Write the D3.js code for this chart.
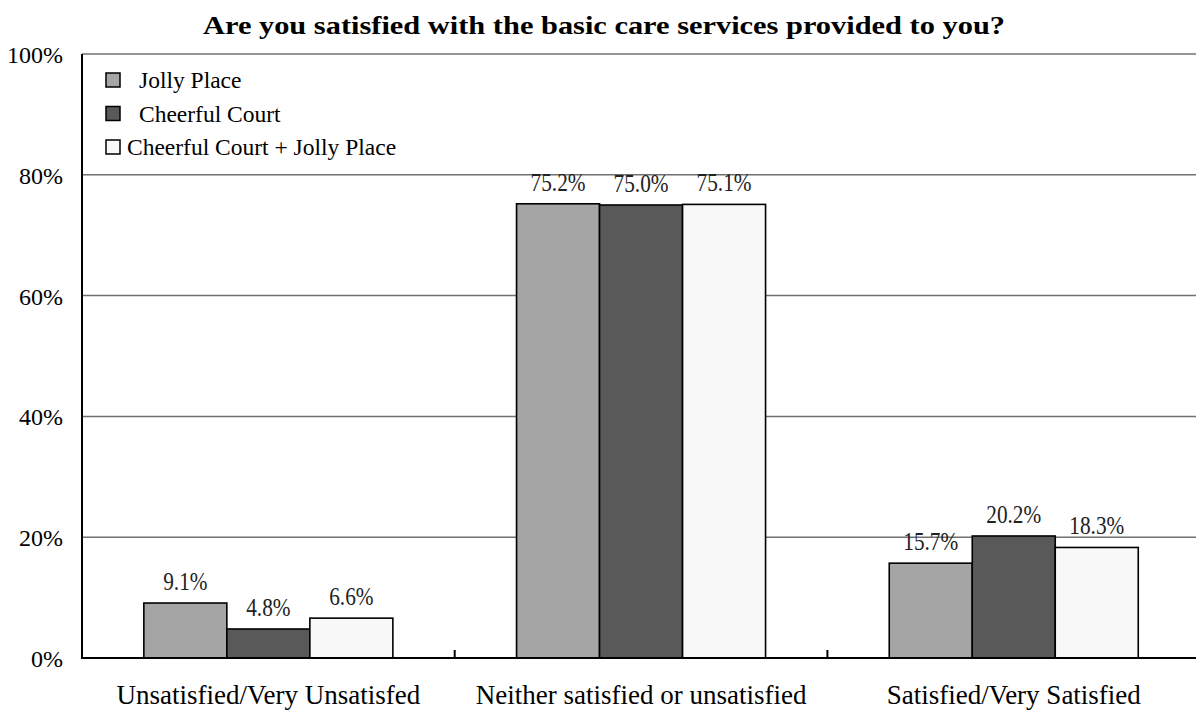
<!DOCTYPE html>
<html>
<head>
<meta charset="utf-8">
<script src="https://cdn.jsdelivr.net/npm/d3@7"></script>
<style>
  body { margin: 0; background: #fff; }
</style>
</head>
<body>
<div id="chart"></div>
<script>
// data
var categories = ["Unsatisfied/Very Unsatisfed", "Neither satisfied or unsatisfied", "Satisfied/Very Satisfied"];
var seriesNames = ["Jolly Place", "Cheerful Court", "Cheerful Court + Jolly Place"];
var jollyPlace = [9.1, 75.2, 15.7];
var cheerfulCourt = [4.8, 75.0, 20.2];
var combined = [6.6, 75.1, 18.3];
var yTicks = [0, 20, 40, 60, 80, 100];
var seriesColors = ["#a5a5a5", "#595959", "#f8f8f8"];

var title = "Are you satisfied with the basic care services provided to you?";

var seriesValues = [jollyPlace, cheerfulCourt, combined];
var serif = "'Liberation Serif', Tinos, 'DejaVu Serif', 'Times New Roman', Times, serif";

var width = 1196, height = 711;
var margin = {top: 54, left: 82, bottom: 53};
var bandW = 372.7;

var svg = d3.select("#chart").append("svg")
    .attr("width", width)
    .attr("height", height)
    .style("font-family", serif);

var x = d3.scaleBand()
    .domain(categories)
    .range([margin.left, margin.left + bandW * categories.length])
    .paddingInner(0)
    .paddingOuter(0);

var xSub = d3.scaleBand()
    .domain(seriesNames)
    .range([0, x.bandwidth()])
    .paddingInner(0)
    .paddingOuter(0.745);

var y = d3.scaleLinear()
    .domain([0, 100])
    .range([height - margin.bottom, margin.top]);

// title (the original font is wider than Times, so stretch it)
svg.append("text")
    .attr("x", 604)
    .attr("y", 34)
    .attr("text-anchor", "middle")
    .attr("textLength", 802)
    .attr("lengthAdjust", "spacingAndGlyphs")
    .style("font-family", serif)
    .style("font-size", "26px")
    .style("font-weight", "bold")
    .text(title);

// gridlines
svg.append("g")
    .selectAll("line")
    .data(yTicks.filter(function(d){ return d > 0; }))
    .enter().append("line")
    .attr("x1", margin.left)
    .attr("x2", width)
    .attr("y1", function(d){ return y(d); })
    .attr("y2", function(d){ return y(d); })
    .attr("stroke", "#707070")
    .attr("stroke-width", 1.5);

// y axis labels
var yAxis = d3.axisLeft(y)
    .tickValues(yTicks)
    .tickSize(0)
    .tickPadding(19)
    .tickFormat(function(d){ return d + "%"; });

var yG = svg.append("g")
    .attr("transform", "translate(" + margin.left + ",0)")
    .call(yAxis)
    .attr("font-family", null)
    .attr("font-size", null);
yG.select(".domain").remove();
yG.selectAll("text")
    .style("font-family", serif)
    .style("font-size", "24px")
    .attr("dy", "0.35em");

// bars
var groups = svg.append("g")
    .selectAll("g")
    .data(seriesNames)
    .enter().append("g")
    .attr("fill", function(d, i){ return seriesColors[i]; });

groups.selectAll("rect")
    .data(function(s, i){
        return categories.map(function(c, j){ return {cat: c, series: s, value: seriesValues[i][j]}; });
    })
    .enter().append("rect")
    .attr("x", function(d){ return x(d.cat) + xSub(d.series); })
    .attr("y", function(d){ return y(d.value); })
    .attr("width", xSub.bandwidth())
    .attr("height", function(d){ return y(0) - y(d.value); })
    .attr("stroke", "#000")
    .attr("stroke-width", 1.6);

// value labels
groups.selectAll("text")
    .data(function(s, i){
        return categories.map(function(c, j){ return {cat: c, series: s, value: seriesValues[i][j]}; });
    })
    .enter().append("text")
    .attr("transform", function(d){
        return "translate(" + (x(d.cat) + xSub(d.series) + xSub.bandwidth() / 2) + "," + (y(d.value) - 13) + ") scale(0.82,1)";
    })
    .attr("text-anchor", "middle")
    .style("font-family", serif)
    .style("font-size", "26px")
    .style("fill", "#222")
    .text(function(d){ return d.value.toFixed(1) + "%"; });

// x axis
var xAxis = d3.axisBottom(x)
    .tickSize(0)
    .tickPadding(27);

var xG = svg.append("g")
    .attr("transform", "translate(0," + y(0) + ")")
    .call(xAxis)
    .attr("font-family", null)
    .attr("font-size", null);
xG.select(".domain").remove();
xG.selectAll("text")
    .style("font-family", serif)
    .style("font-size", "27px")
    .attr("dy", "0.71em");

svg.append("line")
    .attr("x1", margin.left - 1)
    .attr("x2", width)
    .attr("y1", y(0))
    .attr("y2", y(0))
    .attr("stroke", "#000")
    .attr("stroke-width", 2);

// category boundary ticks, pointing up
svg.append("g")
    .selectAll("line")
    .data(categories.slice(1))
    .enter().append("line")
    .attr("x1", function(d){ return x(d); })
    .attr("x2", function(d){ return x(d); })
    .attr("y1", y(0))
    .attr("y2", y(0) - 8)
    .attr("stroke", "#000")
    .attr("stroke-width", 2);

svg.append("line")
    .attr("x1", margin.left)
    .attr("x2", margin.left)
    .attr("y1", y(100))
    .attr("y2", y(0) + 1)
    .attr("stroke", "#000")
    .attr("stroke-width", 2);

// legend
var legend = svg.append("g")
    .selectAll("g")
    .data(seriesNames)
    .enter().append("g")
    .attr("transform", function(d, i){ return "translate(106," + (73 + i * 33.5) + ")"; });

legend.append("rect")
    .attr("width", 14)
    .attr("height", 14)
    .attr("fill", function(d, i){ return seriesColors[i]; })
    .attr("stroke", "#000")
    .attr("stroke-width", 1.5);

legend.append("text")
    .attr("x", function(d, i){ return i < 2 ? 33 : 21; })
    .attr("y", 15)
    .style("font-family", serif)
    .style("font-size", "23.5px")
    .text(function(d){ return d; });
</script>
</body>
</html>
